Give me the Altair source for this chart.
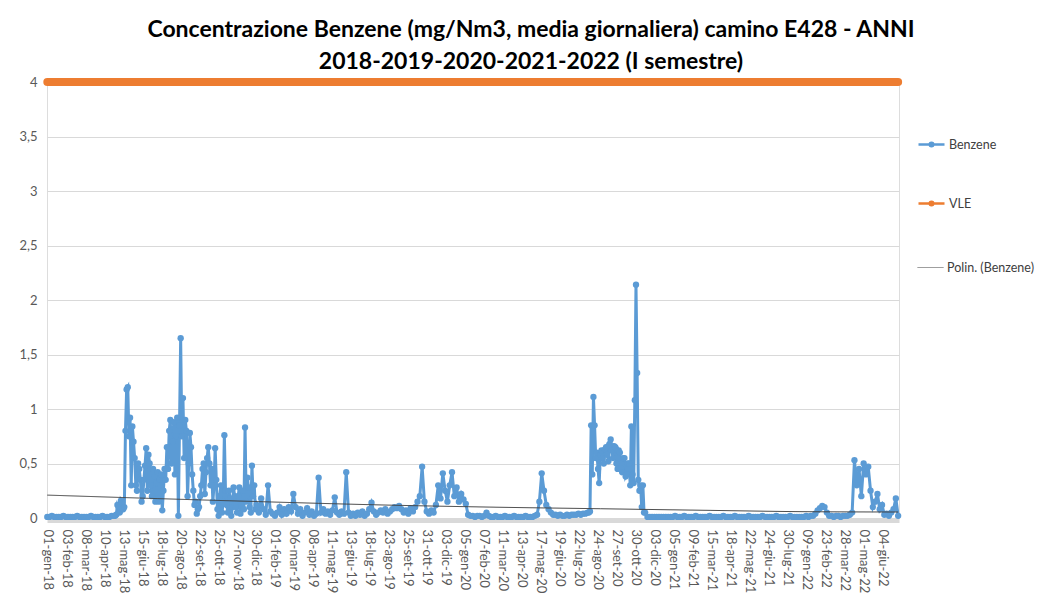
import altair as alt
import pandas as pd

# ---------------- data ----------------
tick_labels = [
    "01-gen-18", "03-feb-18", "08-mar-18", "10-apr-18", "13-mag-18", "15-giu-18",
    "18-lug-18", "20-ago-18", "22-set-18", "25-ott-18", "27-nov-18", "30-dic-18",
    "01-feb-19", "06-mar-19", "08-apr-19", "11-mag-19", "13-giu-19", "18-lug-19",
    "23-ago-19", "25-set-19", "31-ott-19", "03-dic-19", "05-gen-20", "07-feb-20",
    "11-mar-20", "13-apr-20", "17-mag-20", "19-giu-20", "22-lug-20", "24-ago-20",
    "27-set-20", "30-ott-20", "03-dic-20", "05-gen-21", "09-feb-21", "15-mar-21",
    "18-apr-21", "22-mag-21", "24-giu-21", "30-lug-21", "09-gen-22", "23-feb-22",
    "28-mar-22", "01-mag-22", "04-giu-22",
]
LABEL_EVERY = 33      # one axis label every 33 records

# readings: (first record index, records between readings, values)
seg_2018_a = [  # gen-mag 2018, every 4 records from record 0
    0.01, 0.01, 0.02, 0.01, 0.01, 0.01, 0.01, 0.02, 0.01, 0.01,
    0.01, 0.01, 0.01, 0.02, 0.01, 0.01, 0.01, 0.01, 0.01, 0.02,
    0.01, 0.01, 0.01, 0.01, 0.02, 0.01, 0.01, 0.01, 0.02, 0.02,
]
seg_2018_b = [  # mag-dic 2018, every 2 records from record 118
    0.02,
    0.03, 0.12, 0.10, 0.05, 0.16, 0.14, 0.08, 0.10, 0.80, 1.18,
    1.20, 0.75, 0.92, 0.30, 0.84, 0.70, 0.55, 0.30, 0.25, 0.50,
    0.45, 0.35, 0.15, 0.20, 0.35, 0.48, 0.64, 0.25, 0.58, 0.50,
    0.30, 0.20, 0.45, 0.38, 0.15, 0.32, 0.42, 0.15, 0.35, 0.40,
    0.07, 0.25, 0.45, 0.35, 0.65, 0.45, 0.80, 0.90, 0.50, 0.70,
    0.88, 0.40, 0.75, 0.92, 0.02, 0.85, 1.65, 0.75, 1.10, 0.55,
    0.90, 0.80, 0.20, 0.50, 0.78, 0.65, 0.40, 0.25, 0.12, 0.15,
    0.04, 0.08, 0.10, 0.20, 0.30, 0.45, 0.50, 0.22, 0.42, 0.55,
    0.65, 0.50, 0.30, 0.45, 0.15, 0.30, 0.64, 0.35, 0.08, 0.02,
    0.20, 0.30, 0.05, 0.15, 0.76, 0.25, 0.12, 0.05, 0.25, 0.18,
    0.02, 0.10, 0.28, 0.20, 0.10, 0.05, 0.20, 0.28, 0.04, 0.12,
    0.25, 0.08, 0.83, 0.15, 0.37, 0.28, 0.10, 0.05, 0.48, 0.20,
    0.30, 0.08,
]
seg_2019 = [  # 2019 + gen-ago 2020, every 4 records from record 364
    0.12, 0.05, 0.18, 0.08, 0.03, 0.30, 0.06, 0.04, 0.02, 0.05,
    0.10, 0.03, 0.08, 0.04, 0.10, 0.06, 0.22, 0.10, 0.04, 0.08,
    0.02, 0.05, 0.09, 0.03, 0.06, 0.02, 0.04, 0.37, 0.05, 0.08,
    0.04, 0.06, 0.03, 0.07, 0.19, 0.05, 0.03, 0.06, 0.04, 0.42,
    0.05, 0.02, 0.04, 0.02, 0.05, 0.03, 0.06, 0.02, 0.04, 0.08,
    0.14, 0.06, 0.03, 0.05, 0.07, 0.05, 0.08, 0.04, 0.06, 0.08,
    0.10, 0.09, 0.11, 0.08, 0.05, 0.07, 0.04, 0.09, 0.06, 0.10,
    0.15, 0.20, 0.47, 0.15, 0.06, 0.04, 0.07, 0.05, 0.12, 0.30,
    0.18, 0.41, 0.25, 0.15, 0.30, 0.42, 0.20, 0.28, 0.15,
    0.22, 0.17, 0.13, 0.03, 0.02, 0.02, 0.01, 0.02, 0.02, 0.01,
    0.02, 0.05, 0.02, 0.01, 0.01, 0.02, 0.01, 0.01, 0.01, 0.02,
    0.01, 0.01, 0.01, 0.02, 0.01, 0.01, 0.01, 0.01, 0.02, 0.01,
    0.01, 0.01, 0.02, 0.03, 0.15, 0.41, 0.25, 0.12, 0.08, 0.05,
    0.03, 0.03, 0.02, 0.03, 0.02, 0.02, 0.03, 0.02, 0.03, 0.03,
    0.03, 0.04, 0.03, 0.04, 0.04, 0.05,
]
seg_2020 = [  # ago-nov 2020, every 2 records from record 942
    0.05, 0.06, 0.85, 0.40, 1.11, 0.85, 0.55, 0.60, 0.45, 0.32,
    0.58, 0.62, 0.55, 0.50, 0.63, 0.65, 0.58, 0.52, 0.68, 0.72,
    0.62, 0.55, 0.66, 0.65, 0.50, 0.45, 0.62, 0.60, 0.45, 0.42,
    0.55, 0.55, 0.38, 0.40, 0.50, 0.50, 0.30, 0.84, 0.40, 0.32,
    1.08, 2.14, 1.33, 0.35, 0.25, 0.30, 0.10, 0.30, 0.05,
]
seg_2021_2022 = [  # nov 2020 - giu 2022, every 4 records from record 1040
    0.05, 0.01, 0.01, 0.01, 0.01, 0.01, 0.01, 0.01, 0.01, 0.01, 0.01,
    0.01, 0.01, 0.02, 0.01, 0.01, 0.01, 0.02, 0.01, 0.01, 0.01,
    0.01, 0.02, 0.01, 0.01, 0.01, 0.01, 0.01, 0.02, 0.01, 0.01,
    0.01, 0.01, 0.01, 0.02, 0.01, 0.01, 0.01, 0.01, 0.02, 0.01,
    0.01, 0.01, 0.01, 0.01, 0.02, 0.01, 0.01, 0.01, 0.01, 0.01,
    0.02, 0.01, 0.01, 0.01, 0.01, 0.01, 0.02, 0.01, 0.01, 0.01,
    0.01, 0.01, 0.02, 0.01, 0.01, 0.01, 0.01,
    0.01, 0.01, 0.02, 0.01, 0.02, 0.02, 0.04, 0.07, 0.09, 0.11,
    0.10, 0.05, 0.02, 0.02, 0.01, 0.02, 0.02, 0.01, 0.02, 0.02,
    0.02, 0.03, 0.05, 0.53, 0.30, 0.45, 0.20, 0.50, 0.40, 0.47,
    0.25, 0.10, 0.15, 0.22, 0.08, 0.12, 0.03, 0.04, 0.02, 0.05,
    0.08, 0.18, 0.02,
]
segments = [
    (0, 4, seg_2018_a),
    (118, 2, seg_2018_b),
    (364, 4, seg_2019),
    (942, 2, seg_2020),
    (1040, 4, seg_2021_2022),
]
vle_value = 4.0

# polynomial trend (Polin. (Benzene)) read at a few record positions
trend_idx = [0, 179, 370, 579, 770, 962, 1153, 1318, 1480]
trend_val = [0.21, 0.18, 0.15, 0.12, 0.10, 0.085, 0.07, 0.058, 0.055]

# ---------------- tables ----------------
b_idx, b_val = [], []
for start, step, vals in segments:
    for k, v in enumerate(vals):
        b_idx.append(start + step * k)
        b_val.append(v)
last_idx = b_idx[-1]

df_b = pd.DataFrame({"idx": b_idx, "val": b_val, "serie": "Benzene"})
df_v = pd.DataFrame({"idx": [0, last_idx], "val": [vle_value, vle_value], "serie": "VLE"})
df_t = pd.DataFrame({"idx": trend_idx, "val": trend_val, "serie": "Polin. (Benzene)"})

series_order = ["Benzene", "VLE"]
series_colors = ["#5B9BD5", "#ED7D31"]
trend_color = "#404040"

label_array = "[" + ",".join("'" + t + "'" for t in tick_labels) + "]"
x_label_expr = label_array + "[round(datum.value / %d)]" % LABEL_EVERY
x_values = [k * LABEL_EVERY for k in range(len(tick_labels))]

FONT = "Lato"
dot_path = "M-1,0H1M-0.14,0A0.14,0.14,0,1,0,0.14,0A0.14,0.14,0,1,0,-0.14,0Z"

x_enc = alt.X(
    "idx:Q",
    scale=alt.Scale(domain=[-0.5, 1481.5], nice=False, zero=False),
    axis=alt.Axis(
        values=x_values, labelExpr=x_label_expr, labelAngle=90, title=None,
        grid=False, ticks=False, domainColor="#d9d9d9", domainWidth=5, offset=2,
        labelFont=FONT, labelFontSize=13, labelColor="#595959", labelPadding=9,
        labelOverlap=False, labelFlush=False, labelBound=False,
    ),
)
y_enc = alt.Y(
    "val:Q",
    scale=alt.Scale(domain=[0, 4], nice=False),
    axis=alt.Axis(
        values=[0, 0.5, 1, 1.5, 2, 2.5, 3, 3.5, 4],
        labelExpr="replace(toString(datum.value), '.', ',')",
        title=None, domain=False, ticks=False, grid=True, gridColor="#d9d9d9",
        labelFont=FONT, labelFontSize=13, labelColor="#595959", labelPadding=10,
    ),
)
color_enc = alt.Color(
    "serie:N",
    scale=alt.Scale(domain=series_order, range=series_colors),
    sort=series_order,
    legend=alt.Legend(
        title=None, orient="none", legendX=870, legendY=48, direction="vertical",
        symbolType=dot_path, symbolSize=676, symbolStrokeWidth=2.5,
        rowPadding=37, labelFont=FONT, labelFontSize=12.5, labelColor="#404040",
        labelOffset=3,
    ),
)
dash_enc = alt.StrokeDash(
    "serie:N",
    scale=alt.Scale(domain=["Polin. (Benzene)"], range=[[1, 0]]),
    legend=alt.Legend(
        title=None, orient="none", legendX=870, legendY=172, direction="vertical",
        symbolType="stroke", symbolSize=676, symbolStrokeWidth=1,
        symbolStrokeColor="#7f7f7f",
        labelFont=FONT, labelFontSize=12.5, labelColor="#404040", labelOffset=3,
    ),
)

benz = alt.Chart(df_b).mark_line(
    strokeWidth=3,
    point=alt.OverlayMarkDef(filled=True, size=40, opacity=1),
).encode(x=x_enc, y=y_enc, color=color_enc, order="idx:Q")

vle = alt.Chart(df_v).mark_line(strokeWidth=8, strokeCap="round").encode(
    x=x_enc, y=y_enc, color=color_enc
)

trend = alt.Chart(df_t).mark_line(
    strokeWidth=1, interpolate="monotone", color=trend_color
).encode(x=x_enc, y=y_enc, strokeDash=dash_enc)

chart = alt.layer(benz, vle, trend).properties(
    width=852,
    height=436,
    autosize=alt.AutoSizeParams(type="none"),
    padding={"left": 39, "top": 74, "right": 138, "bottom": 81},
    title=alt.TitleParams(
        text=[
            "Concentrazione Benzene (mg/Nm3, media giornaliera) camino E428 - ANNI",
            "2018-2019-2020-2021-2022 (I semestre)",
        ],
        font=FONT, fontSize=23, fontWeight="bold", color="#000000",
        anchor="middle", dx=58, dy=20, offset=12, lineHeight=32,
    ),
).configure_view(stroke=None).configure(background="white")

chart.save("out.html", embed_options={"renderer": "svg", "actions": False})
